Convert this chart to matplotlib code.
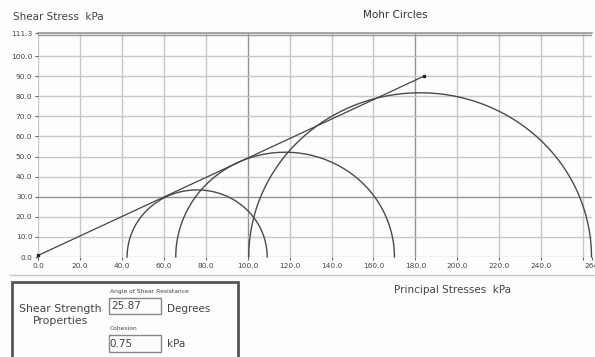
import numpy as np
import matplotlib
matplotlib.use("Agg")
import matplotlib.pyplot as plt
from matplotlib.lines import Line2D
from matplotlib.patches import Rectangle

# Principal stresses (kPa) for each test: sigma3 (left) and sigma1 (right)
sigma3 = [42.5, 65.7, 100.5]
sigma1 = [109.3, 170.0, 264.0]

# Shear strength parameters
phi_deg = 25.87
cohesion = 0.75
envelope_end = 184.0

x_ticks = [0, 20, 40, 60, 80, 100, 120, 140, 160, 180, 200, 220, 240, 260, 264]
x_labels = ["0.0", "20.0", "40.0", "60.0", "80.0", "100.0", "120.0", "140.0",
            "160.0", "180.0", "200.0", "220.0", "240.0", "", "264"]
y_ticks = [0, 10, 20, 30, 40, 50, 60, 70, 80, 90, 100, 111.3]
y_labels = ["0.0", "10.0", "20.0", "30.0", "40.0", "50.0", "60.0", "70.0",
            "80.0", "90.0", "100.0", "111.3"]

W, H = 595, 357
fig = plt.figure(figsize=(W / 100, H / 100), dpi=100)
fig.patch.set_facecolor("#fdfdfd")


def fx(px):
    return px / W


def fy(py):
    return 1 - py / H


ax = fig.add_axes([fx(38), fy(257), fx(591.5) - fx(38), fy(33.4) - fy(257)])
ax.set_facecolor("#fdfdfd")
ax.set_xlim(0, 264)
ax.set_ylim(0, 111.3)

# grid
grid_c = "#c8c8c8"
dark_c = "#939393"
for xv in x_ticks[:-1]:
    ax.axvline(xv, color=dark_c if xv in (100, 180) else grid_c, lw=1.0, zorder=1)
for yv in y_ticks:
    ax.axhline(yv, color=dark_c if yv == 30 else grid_c, lw=1.0, zorder=1)
ax.axhline(110.4, color="#9a9a9a", lw=1.0, zorder=1)
ax.axhline(111.3, color="#9a9a9a", lw=1.2, zorder=1, clip_on=False)

for s in ax.spines.values():
    s.set_visible(False)

ax.set_xticks(x_ticks)
ax.set_xticklabels(x_labels)
ax.set_yticks(y_ticks)
ax.set_yticklabels(y_labels)
ax.tick_params(axis="both", labelsize=5.3, colors="#666666", labelcolor="#444444",
               length=2.5, width=0.8, pad=1.5)

# Mohr circles (upper halves)
t = np.linspace(0, np.pi, 300)
for s3, s1 in zip(sigma3, sigma1):
    c = (s1 + s3) / 2
    r = (s1 - s3) / 2
    ax.plot(c + r * np.cos(t), r * np.sin(t), color="#4a4a4a", lw=1.0, zorder=3,
            clip_on=False)

# failure envelope
tan_phi = np.tan(np.radians(phi_deg))
ex = np.array([0.0, envelope_end])
ey = cohesion + ex * tan_phi
ax.plot(ex, ey, color="#444444", lw=0.9, zorder=4, clip_on=False)
ax.plot(ex, ey, "s", color="#222222", ms=2.0, zorder=5, clip_on=False)

# titles
fig.text(fx(13), fy(17), "Shear Stress  kPa", fontsize=7.5, color="#444444",
         va="center", ha="left")
fig.text(fx(395), fy(15), "Mohr Circles", fontsize=7.5, color="#333333",
         va="center", ha="center")
fig.text(fx(452), fy(290), "Principal Stresses  kPa", fontsize=7.5, color="#444444",
         va="center", ha="center")

# separator under the axis labels
fig.add_artist(Line2D([fx(10), 1.0], [fy(275), fy(275)], color="#c8c8c8", lw=1.0))

# shear strength properties panel
fig.add_artist(Rectangle((fx(12), fy(360)), fx(238) - fx(12), fy(282) - fy(360),
                         transform=fig.transFigure, fill=False,
                         edgecolor="#555555", lw=2.0))
fig.text(fx(60), fy(315), "Shear Strength\nProperties", fontsize=7.8, color="#444444",
         va="center", ha="center", linespacing=1.15)
fig.text(fx(110), fy(292), "Angle of Shear Resistance", fontsize=4.3,
         color="#444444", va="center", ha="left")
fig.add_artist(Rectangle((fx(109), fy(314)), fx(161) - fx(109), fy(298) - fy(314),
                         transform=fig.transFigure, fill=False,
                         edgecolor="#888888", lw=1.0))
fig.text(fx(111), fy(306), f"{phi_deg:.2f}", fontsize=7.5, color="#444444",
         va="center", ha="left")
fig.text(fx(167), fy(309), "Degrees", fontsize=7.5, color="#444444",
         va="center", ha="left")
fig.text(fx(110), fy(328), "Cohesion", fontsize=4.3, color="#444444",
         va="center", ha="left")
fig.add_artist(Rectangle((fx(109), fy(352)), fx(161) - fx(109), fy(335) - fy(352),
                         transform=fig.transFigure, fill=False,
                         edgecolor="#888888", lw=1.0))
fig.text(fx(109), fy(344), f"{cohesion:.2f}", fontsize=7.5, color="#444444",
         va="center", ha="left")
fig.text(fx(167), fy(344), "kPa", fontsize=7.5, color="#444444",
         va="center", ha="left")

fig.savefig("out.png", dpi=100, facecolor=fig.get_facecolor())
